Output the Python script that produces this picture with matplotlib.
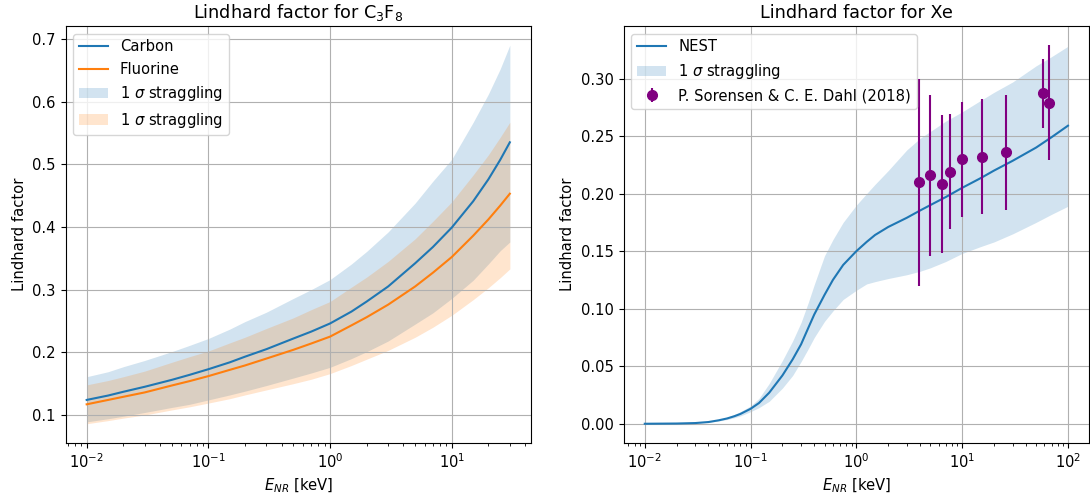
import matplotlib
matplotlib.use("Agg")
import matplotlib.pyplot as plt

plt.rcParams["font.size"] = 10.6

# C3F8: Lindhard factor
energy_c3f8 = [0.01, 0.015, 0.02, 0.03, 0.05, 0.07, 0.1, 0.15, 0.2, 0.3, 0.5, 0.7,
               1, 1.5, 2, 3, 5, 7, 10, 15, 20, 25, 30]
carbon = [0.124, 0.131, 0.137, 0.145, 0.156, 0.164, 0.173, 0.184, 0.193, 0.205, 0.222, 0.233,
          0.246, 0.265, 0.281, 0.305, 0.342, 0.368, 0.399, 0.441, 0.476, 0.507, 0.535]
carbon_hi = [0.161, 0.169, 0.177, 0.187, 0.201, 0.211, 0.222, 0.237, 0.249, 0.264, 0.286, 0.300,
             0.316, 0.341, 0.361, 0.392, 0.438, 0.473, 0.508, 0.567, 0.612, 0.652, 0.690]
carbon_lo = [0.089, 0.094, 0.098, 0.104, 0.112, 0.117, 0.124, 0.132, 0.138, 0.147, 0.159, 0.167,
             0.176, 0.190, 0.201, 0.218, 0.245, 0.263, 0.286, 0.315, 0.341, 0.362, 0.376]
fluorine = [0.117, 0.124, 0.129, 0.136, 0.147, 0.154, 0.162, 0.172, 0.179, 0.190, 0.204, 0.214,
            0.225, 0.243, 0.256, 0.276, 0.305, 0.327, 0.352, 0.386, 0.412, 0.434, 0.453]
fluorine_hi = [0.148, 0.155, 0.161, 0.170, 0.184, 0.193, 0.202, 0.215, 0.224, 0.238, 0.255, 0.268,
               0.281, 0.304, 0.320, 0.345, 0.381, 0.409, 0.440, 0.483, 0.515, 0.543, 0.567]
fluorine_lo = [0.086, 0.091, 0.095, 0.100, 0.108, 0.113, 0.119, 0.126, 0.132, 0.140, 0.150, 0.157,
               0.166, 0.179, 0.189, 0.203, 0.224, 0.240, 0.259, 0.284, 0.303, 0.319, 0.333]

# Xe: NEST curve and band
energy_xe = [0.01, 0.02, 0.03, 0.04, 0.05, 0.06, 0.07, 0.08, 0.1, 0.12, 0.15, 0.2, 0.25, 0.3, 0.35,
             0.4, 0.5, 0.6, 0.75, 1, 1.25, 1.5, 2, 3, 4, 5, 7, 10, 15, 20, 30, 50, 70, 100]
nest = [0.0, 0.0002, 0.0006, 0.0015, 0.003, 0.0046, 0.0065, 0.0085, 0.013, 0.018, 0.027, 0.042,
        0.056, 0.069, 0.083, 0.095, 0.112, 0.125, 0.138, 0.150, 0.158, 0.164, 0.171, 0.179, 0.1853,
        0.190, 0.197, 0.205, 0.2135, 0.220, 0.2285, 0.240, 0.249, 0.259]
nest_hi = [0.0, 0.0002, 0.0007, 0.0018, 0.0037, 0.0057, 0.008, 0.0105, 0.0155, 0.022, 0.035, 0.055,
           0.072, 0.088, 0.105, 0.121, 0.146, 0.160, 0.175, 0.190, 0.200, 0.208, 0.220, 0.238, 0.248,
           0.254, 0.263, 0.271, 0.281, 0.288, 0.297, 0.311, 0.319, 0.328]
nest_lo = [0.0, 0.0002, 0.0005, 0.0012, 0.0024, 0.0037, 0.0052, 0.0068, 0.0105, 0.014, 0.0195, 0.031,
           0.042, 0.054, 0.065, 0.075, 0.089, 0.098, 0.108, 0.116, 0.1215, 0.1235, 0.1262, 0.1295, 0.1325,
           0.1355, 0.141, 0.148, 0.154, 0.158, 0.165, 0.175, 0.182, 0.189]

# P. Sorensen & C. E. Dahl (2018)
sd_energy = [3.94, 4.94, 6.47, 7.59, 10.0, 15.5, 25.8, 57.8, 66.8]
sd_value = [0.210, 0.216, 0.208, 0.219, 0.230, 0.232, 0.236, 0.287, 0.279]
sd_err = [0.09, 0.07, 0.06, 0.05, 0.05, 0.05, 0.05, 0.03, 0.05]

fig, (ax1, ax2) = plt.subplots(1, 2, figsize=(10.9, 5.01), dpi=100)
plt.subplots_adjust(left=0.0601, right=0.9992, bottom=0.1164, top=0.9477, wspace=0.199)

# 左图
ax1.plot(energy_c3f8, carbon, color="C0", label="Carbon")
ax1.plot(energy_c3f8, fluorine, color="C1", label="Fluorine")
ax1.fill_between(energy_c3f8, carbon_lo, carbon_hi, color="C0", alpha=0.2, lw=0, label=r"1 $\sigma$ straggling")
ax1.fill_between(energy_c3f8, fluorine_lo, fluorine_hi, color="C1", alpha=0.2, lw=0, label=r"1 $\sigma$ straggling")
ax1.set_xscale("log")
ax1.set_xlabel(r"$E_{NR}$ [keV]")
ax1.set_ylabel("Lindhard factor")
ax1.set_title(r"Lindhard factor for C$_3$F$_8$")
ax1.grid(True)
ax1.legend(loc="upper left")

# 右图
ax2.plot(energy_xe, nest, color="C0", label="NEST")
ax2.fill_between(energy_xe, nest_lo, nest_hi, color="C0", alpha=0.2, lw=0, label=r"1 $\sigma$ straggling")
ax2.errorbar(sd_energy, sd_value, yerr=sd_err, fmt="o", color="purple", markersize=7,
             elinewidth=1.5, label="P. Sorensen & C. E. Dahl (2018)")
ax2.set_xscale("log")
ax2.set_xlabel(r"$E_{NR}$ [keV]")
ax2.set_ylabel("Lindhard factor")
ax2.set_title("Lindhard factor for Xe")
ax2.grid(True)
ax2.legend(loc="upper left")

plt.savefig("out.png")
